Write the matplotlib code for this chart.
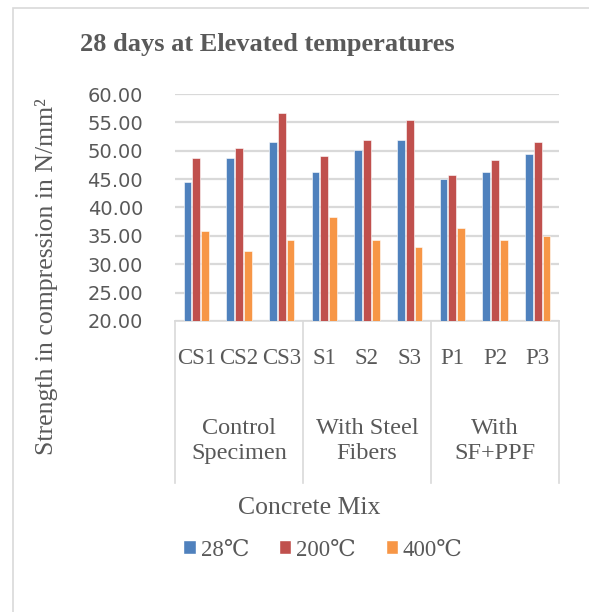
import numpy as np
import matplotlib
matplotlib.use("Agg")
import matplotlib.pyplot as plt
from matplotlib.patches import Rectangle, Patch
from matplotlib.lines import Line2D
import matplotlib.transforms as mtransforms

# data
mixes = ["CS1", "CS2", "CS3", "S1", "S2", "S3", "P1", "P2", "P3"]
groups = ["Control\nSpecimen", "With Steel\nFibers", "With\nSF+PPF"]
series_names = ["28\u2103", "200\u2103", "400\u2103"]
temp_28 = [44.5, 48.7, 51.6, 46.2, 50.2, 51.9, 45.1, 46.2, 49.4]
temp_200 = [48.7, 50.5, 56.6, 49.1, 51.9, 55.5, 45.8, 48.4, 51.6]
temp_400 = [35.9, 32.4, 34.2, 38.4, 34.2, 33.1, 36.3, 34.2, 34.9]
y_ticks = [20, 25, 30, 35, 40, 45, 50, 55, 60]
colors = ["#4F81BD", "#C0504D", "#F79646"]

W, H = 589, 612
SERIF = "Liberation Serif"
GRAY = "#595959"


def main():
    fig = plt.figure(figsize=(W / 100, H / 100), dpi=100)
    fig.patch.set_facecolor("white")

    # chart area border (runs off the right and bottom edges)
    fig.add_artist(Rectangle((13 / W, -0.05), 1.0, 1 - 8 / H + 0.05,
                             transform=fig.transFigure, fill=False,
                             edgecolor="#D9D9D9", linewidth=1.2))

    ax = fig.add_axes([175 / W, 1 - 321 / H, 384 / W, 227 / H])
    x = np.arange(len(mixes)) + 0.5
    width = 0.18
    step = 0.21
    for k, vals in enumerate([temp_28, temp_200, temp_400]):
        ax.bar(x + (k - 1) * step, np.array(vals) - 20, width, bottom=20,
               color=colors[k], edgecolor="white", linewidth=0.4, zorder=3)

    ax.set_xlim(0, len(mixes))
    ax.set_ylim(20, 60)
    ax.set_yticks(y_ticks)
    ax.set_yticklabels([f"{v:.2f}" for v in y_ticks], fontsize=14,
                       color=GRAY, family="DejaVu Sans")
    ax.tick_params(axis="y", length=0, pad=23)
    ax.set_xticks([])
    ax.yaxis.grid(True, color="#D9D9D9", linewidth=1.6, zorder=0)
    for s in ["top", "right", "left"]:
        ax.spines[s].set_visible(False)
    ax.spines["bottom"].set_color("#D9D9D9")
    ax.spines["bottom"].set_linewidth(1.2)

    # multi-level category axis
    trans = mtransforms.blended_transform_factory(ax.transData, ax.transAxes)
    for b in [0, 3, 6, 9]:
        ax.add_line(Line2D([b, b], [0, -162 / 227], transform=trans,
                           color="#D9D9D9", linewidth=1.2, clip_on=False))
    for xi, name in zip(x, mixes):
        ax.text(xi, -37 / 227, name, transform=trans, ha="center",
                va="center", fontsize=16.5, family=SERIF, color=GRAY)
    for gi, g in enumerate(groups):
        ax.text(gi * 3 + 1.5, -120 / 227, g, transform=trans, ha="center",
                va="center", fontsize=17.5, family=SERIF, color=GRAY,
                linespacing=1.2)

    fig.text(267 / W, 1 - 45 / H, "28 days at Elevated temperatures",
             ha="center", va="center", fontsize=19, fontweight="bold",
             family=SERIF, color=GRAY)
    fig.text(47 / W, 1 - 277 / H, "Strength in compression in N/mm\u00b2",
             rotation=90, ha="center", va="center", fontsize=18.5,
             family=SERIF, color=GRAY)
    fig.text(309 / W, 1 - 508 / H, "Concrete Mix", ha="center",
             va="center", fontsize=18.5, family=SERIF, color=GRAY)

    handles = [Patch(facecolor=c, edgecolor="white") for c in colors]
    fig.legend(handles, series_names, loc="center",
               bbox_to_anchor=(323 / W, 1 - 550 / H), ncol=3, frameon=False,
               handlelength=0.55, handleheight=0.55, handletextpad=0.2,
               columnspacing=1.3,
               prop={"family": [SERIF, "DejaVu Serif"], "size": 16.5},
               labelcolor=GRAY)

    fig.savefig("out.png", dpi=100, facecolor="white")


if __name__ == "__main__":
    main()
